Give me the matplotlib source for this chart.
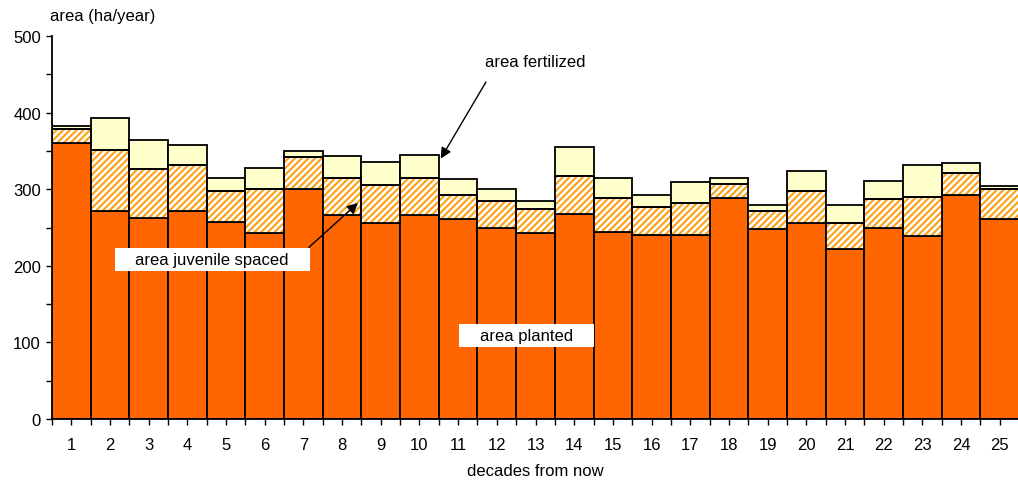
import matplotlib
matplotlib.use('Agg')
import matplotlib.pyplot as plt
from matplotlib.patches import Rectangle
from matplotlib.ticker import MultipleLocator
import numpy as np

plt.rcParams['font.family'] = ['Liberation Sans', 'DejaVu Sans']
plt.rcParams['font.size'] = 12
plt.rcParams['hatch.linewidth'] = 1.5

# area per decade (ha/year)
decades = list(range(1, 26))
area_planted = [360, 271, 263, 271, 257, 243, 300, 266, 256, 266,
                261, 249, 243, 267, 244, 240, 240, 289, 248, 256,
                222, 250, 239, 293, 261]
area_spaced = [19, 80, 63, 60, 41, 57, 42, 48, 49, 49,
               31, 35, 31, 50, 44, 37, 42, 18, 24, 41,
               34, 37, 51, 28, 39]
area_fertilized = [4, 42, 38, 27, 16, 28, 8, 29, 30, 29,
                   21, 16, 11, 38, 26, 16, 28, 7, 7, 27,
                   23, 24, 41, 13, 4]

planted = np.array(area_planted)
spaced = np.array(area_spaced)
fert = np.array(area_fertilized)

fig = plt.figure(figsize=(10.18, 4.85), dpi=100)
ax = fig.add_axes([52 / 1018, 65 / 485, 967 / 1018, 383 / 485])

edge_lw = 1.3
ax.bar(decades, planted, width=1.0, color='#FF6600', edgecolor='black', linewidth=edge_lw, zorder=2)
# hatched layer: orange stripes on white, then outline on top
ax.bar(decades, spaced, bottom=planted, width=1.0, color='white', edgecolor='#FFA010',
       hatch='/////', linewidth=0, zorder=2)
ax.bar(decades, spaced, bottom=planted, width=1.0, fill=False, edgecolor='black',
       linewidth=edge_lw, zorder=3)
ax.bar(decades, fert, bottom=planted + spaced, width=1.0, color='#FFFFCC', edgecolor='black',
       linewidth=edge_lw, zorder=2)

ax.set_xlim(0.5, 25.5)
ax.set_ylim(0, 500)
ax.spines['top'].set_visible(False)
ax.spines['right'].set_visible(False)
ax.spines['left'].set_linewidth(1.3)
ax.spines['bottom'].set_linewidth(1.3)
ax.spines['left'].set_zorder(5)
ax.spines['bottom'].set_zorder(5)

ax.set_xticks(decades)
ax.set_xticks(np.arange(0.5, 26, 1), minor=True)
ax.yaxis.set_major_locator(MultipleLocator(100))
ax.yaxis.set_minor_locator(MultipleLocator(50))
ax.tick_params(axis='both', which='both', direction='out', length=4, width=1, color='black')
ax.tick_params(axis='x', which='major', pad=9, labelsize=12)
ax.tick_params(axis='y', which='major', pad=4, labelsize=12)

ax.set_xlabel('decades from now', fontsize=12, labelpad=8)
fig.text(103 / 1018, 1 - 16 / 485, 'area (ha/year)', ha='center', va='center', fontsize=12)

# labels
ax.add_patch(Rectangle((2.13, 193.2), 5.04, 30.0, facecolor='white', edgecolor='none', zorder=6))
ax.text(4.64, 208, 'area juvenile spaced', ha='center', va='center', fontsize=12, zorder=7)
ax.add_patch(Rectangle((11.02, 94.0), 3.49, 30.0, facecolor='white', edgecolor='none', zorder=6))
ax.text(12.77, 109, 'area planted', ha='center', va='center', fontsize=12, zorder=7)
ax.text(12.99, 467, 'area fertilized', ha='center', va='center', fontsize=12, zorder=7)

arrow = dict(arrowstyle='-|>', color='black', lw=1, mutation_scale=16, shrinkA=0, shrinkB=0)
ax.annotate('', xy=(10.55, 340), xytext=(11.72, 440), arrowprops=arrow, zorder=7)
ax.annotate('', xy=(8.41, 282), xytext=(7.14, 224), arrowprops=arrow, zorder=7)

fig.savefig('out.png', dpi=100)
